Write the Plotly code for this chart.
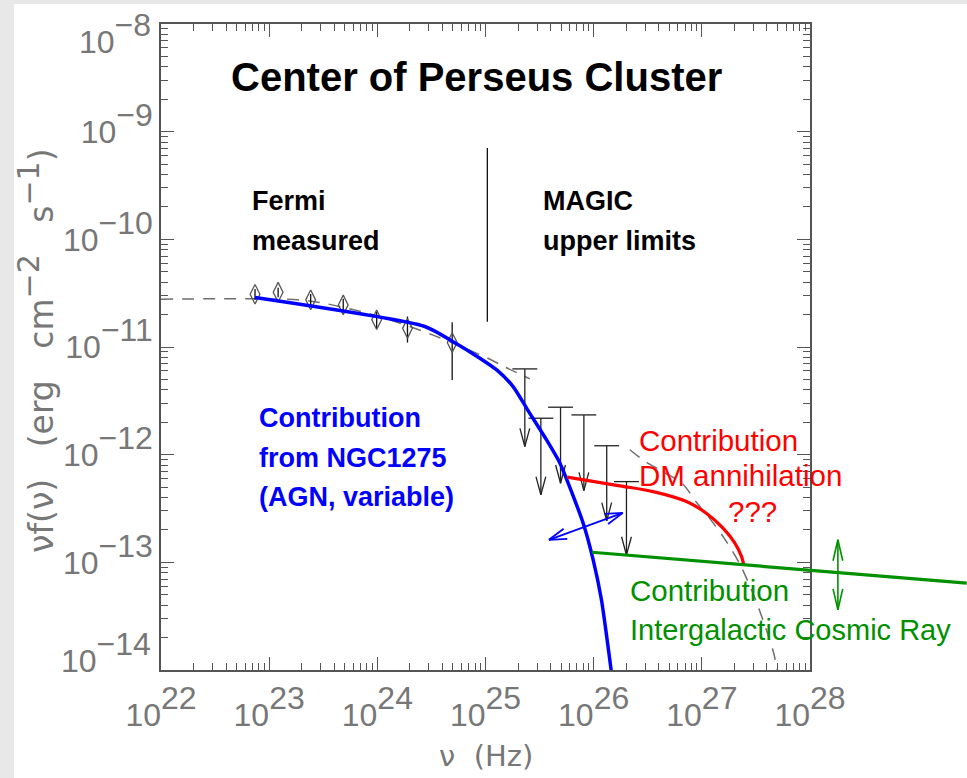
import numpy as np
import plotly.graph_objects as go

# ---------------- data ----------------
fermi_nu = [7.40e22, 1.21e23, 2.42e23, 4.84e23, 9.86e23, 1.90e24, 4.92e24]
fermi_flux = [3.09e-11, 3.23e-11, 2.74e-11, 2.46e-11, 1.79e-11, 1.49e-11, 1.10e-11]
fermi_flux_hi = [3.45e-11, 3.55e-11, 3.10e-11, 2.80e-11, 2.13e-11, 1.92e-11, 1.70e-11]
fermi_flux_lo = [2.75e-11, 2.90e-11, 2.42e-11, 2.17e-11, 1.50e-11, 1.10e-11, 4.95e-12]

magic_nu = [2.31e25, 3.25e25, 4.94e25, 8.12e25, 1.32e26, 2.01e26]
magic_ul = [6.26e-12, 2.18e-12, 2.76e-12, 2.34e-12, 1.21e-12, 5.62e-13]
magic_tip = [1.19e-12, 4.24e-13, 5.43e-13, 4.64e-13, 2.43e-13, 1.17e-13]

agn_nu = [7.40e22, 2.75e24, 5.02e24, 8.87e24, 1.27e25, 1.80e25, 2.45e25, 3.67e25,
          4.88e25, 8.00e25, 9.91e25, 1.18e26, 1.46e26]
agn_flux = [2.88e-11, 1.55e-11, 1.12e-11, 7.87e-12, 6.12e-12, 4.29e-12, 2.61e-12, 1.37e-12,
            8.34e-13, 2.31e-13, 1.05e-13, 4.49e-14, 9.5e-15]

fit_nu = [1.00e22, 7.40e22, 2.38e23, 9.91e23, 3.27e24, 1.03e25, 1.51e25, 2.57e25]
fit_flux = [2.78e-11, 2.80e-11, 2.68e-11, 1.95e-11, 1.29e-11, 7.93e-12, 6.53e-12, 5.06e-12]

total_nu = [2.16e26, 2.85e26, 4.09e26, 6.53e26, 8.99e26, 1.21e27, 1.60e27, 2.24e27,
            3.22e27, 4.53e27, 5.04e27]
total_flux = [1.11e-12, 8.95e-13, 7.20e-13, 5.45e-13, 3.57e-13, 2.48e-13, 1.69e-13, 9.68e-14,
              4.20e-14, 1.54e-14, 9.6e-15]

dm_nu = [5.69e25, 9.22e25, 1.75e26, 3.55e26, 7.22e26, 1.10e27, 1.57e27, 2.02e27, 2.33e27, 2.44e27]
dm_flux = [6.18e-13, 5.71e-13, 5.13e-13, 4.54e-13, 3.67e-13, 2.86e-13, 2.08e-13, 1.51e-13, 1.13e-13, 9.48e-14]

cr_nu = [9.62e25, 2.81e29]
cr_flux = [1.24e-13, 6.41e-14]

divider_nu = [1.04e25, 1.04e25]
divider_flux = [7.06e-10, 1.72e-11]

agn_arrow_nu = [3.86e25, 1.86e26]
agn_arrow_flux = [1.62e-13, 2.88e-13]
cr_arrow_nu = [1.81e28, 1.81e28]
cr_arrow_flux = [1.62e-13, 3.62e-14]

x_major = [1e22, 1e23, 1e24, 1e25, 1e26, 1e27, 1e28]
x_labels = ["22", "23", "24", "25", "26", "27", "28"]
y_major = [1e-14, 1e-13, 1e-12, 1e-11, 1e-10, 1e-9, 1e-8]
y_labels = ["−14", "−13", "−12", "−11", "−10", "−9", "−8"]

# ---------------- layout constants ----------------
W, H = 967, 778
L, R, T, B = 161, 0, 24, 108
PW, PH = W - L - R, H - T - B
XMAIN_END = 810

GRAY_TXT = "#777777"
AXC = "#555555"
TICKFONT = "Liberation Sans, Arial, sans-serif"
TICKSIZE = 32
SUPLIFT = 40   # size of the wrapper span that sets how high the exponent sits


def expo_label(e, size=TICKSIZE, lift=SUPLIFT):
    return (f"10<span style='font-size:{lift}px'><sup>"
            f"<span style='font-size:{size}px'>{e}</span></sup></span>")


def minor_vals(lo, hi):
    return [m * 10.0 ** d for d in range(lo, hi) for m in range(2, 10)]


def head(xt, yt, xf, yf, length, half_angle):
    """V-shaped arrow head (two legs) at tip (xt, yt) pointing away from (xf, yf); log space."""
    lx0, ly0 = np.log10(xt), np.log10(yt)
    d = np.array([np.log10(xf) - lx0, np.log10(yf) - ly0])
    d = d / np.hypot(*d)
    xs, ys = [], []
    for s in (1, -1):
        a = np.radians(half_angle) * s
        r = np.array([np.cos(a) * d[0] - np.sin(a) * d[1], np.sin(a) * d[0] + np.cos(a) * d[1]])
        xs += [10 ** (lx0 + length * r[0]), xt, None]
        ys += [10 ** (ly0 + length * r[1]), yt, None]
    return xs, ys


def px(x):
    return (x - L) / PW


def py(y):
    return (H - B - y) / PH


fig = go.Figure()

# dashed model curves
for xs, ys in ((fit_nu, fit_flux), (total_nu, total_flux)):
    fig.add_trace(go.Scatter(x=xs, y=ys, mode="lines", line_shape="spline",
                             line=dict(color="#6f6f6f", width=1.5, dash="12px,9px", smoothing=0.8),
                             xaxis="x", yaxis="y", hoverinfo="skip"))

# separator line
fig.add_trace(go.Scatter(x=divider_nu, y=divider_flux, mode="lines",
                         line=dict(color="#111", width=1.3), xaxis="x", yaxis="y"))

# Fermi points
fig.add_trace(go.Scatter(
    x=fermi_nu, y=fermi_flux, mode="markers",
    marker=dict(symbol="diamond-tall-open", size=14, color="#555", line=dict(width=1.3, color="#555")),
    error_y=dict(type="data", symmetric=False,
                 array=[h - v for h, v in zip(fermi_flux_hi, fermi_flux)],
                 arrayminus=[v - l for v, l in zip(fermi_flux, fermi_flux_lo)],
                 width=0, thickness=1.3, color="#111"),
    xaxis="x", yaxis="y"))

# MAGIC upper limits: cap, shaft, V head
ulx, uly = [], []
for nu, top, tip in zip(magic_nu, magic_ul, magic_tip):
    ulx += [nu * 10 ** -0.115, nu * 10 ** 0.115, None, nu, nu, None]
    uly += [top, top, None, top, tip, None]
    hx, hy = head(nu, tip, nu, top, 0.175, 15)
    ulx += hx
    uly += hy
fig.add_trace(go.Scatter(x=ulx, y=uly, mode="lines", line=dict(color="#222", width=1.3),
                         xaxis="x", yaxis="y"))

# AGN (blue)
fig.add_trace(go.Scatter(x=agn_nu, y=agn_flux, mode="lines", line_shape="spline",
                         line=dict(color="#0000ff", width=3.5, smoothing=0.6), xaxis="x", yaxis="y"))

# blue double arrow
bx, by = list(agn_arrow_nu) + [None], list(agn_arrow_flux) + [None]
for i, j in ((0, 1), (1, 0)):
    hx, hy = head(agn_arrow_nu[i], agn_arrow_flux[i], agn_arrow_nu[j], agn_arrow_flux[j], 0.17, 17)
    bx += hx
    by += hy
fig.add_trace(go.Scatter(x=bx, y=by, mode="lines", line=dict(color="#0000ff", width=1.8),
                         xaxis="x", yaxis="y"))

# DM (red)
fig.add_trace(go.Scatter(x=dm_nu, y=dm_flux, mode="lines", line_shape="spline",
                         line=dict(color="#ff0000", width=3.2), xaxis="x", yaxis="y"))

# cosmic ray (green) on the wide x2 axis so it runs past the frame
fig.add_trace(go.Scatter(x=cr_nu, y=cr_flux, mode="lines",
                         line=dict(color="#009000", width=3.2), xaxis="x2", yaxis="y"))
gx, gy = list(cr_arrow_nu) + [None], list(cr_arrow_flux) + [None]
for i, j in ((0, 1), (1, 0)):
    hx, hy = head(cr_arrow_nu[i], cr_arrow_flux[i], cr_arrow_nu[j], cr_arrow_flux[j], 0.2, 13)
    gx += hx
    gy += hy
fig.add_trace(go.Scatter(x=gx, y=gy, mode="lines", line=dict(color="#009000", width=1.6),
                         xaxis="x2", yaxis="y"))

# ---------------- text ----------------
anns = []


def add(text, x, y, size, color, family="Liberation Sans, Arial, sans-serif", xanchor="left", bold=False):
    if bold:
        text = f"<b>{text}</b>"
    anns.append(dict(text=text, x=px(x), y=py(y), xref="paper", yref="paper",
                     xanchor=xanchor, yanchor="middle", showarrow=False,
                     font=dict(size=size, color=color, family=family)))


add("Center of Perseus Cluster", 476, 77, 40, "#000", xanchor="center", bold=True)
add("Fermi", 250, 201, 27, "#000", bold=True)
add("measured", 250, 241, 27, "#000", bold=True)
add("MAGIC", 541, 201, 27, "#000", bold=True)
add("upper limits", 541, 241, 27, "#000", bold=True)
add("Contribution", 257, 418, 27, "#0000ff", bold=True)
add("from NGC1275", 257, 458, 27, "#0000ff", bold=True)
add("(AGN, variable)", 257, 497, 27, "#0000ff", bold=True)
add("Contribution", 637, 440, 29.5, "#ff0000")
add("DM annihilation", 637, 475, 29.5, "#ff0000")
add("???", 752, 511, 29.5, "#ff0000", xanchor="center")
add("Contribution", 628, 590, 29.5, "#009000")
add("Intergalactic Cosmic Ray", 628, 630, 29, "#009000")
add("ν\u00a0\u00a0(Hz)", 486, 756, 29, GRAY_TXT, family="DejaVu Sans, sans-serif", xanchor="center")

# end labels of the y axis are nudged inward in the reference
add(expo_label(y_labels[-1]), 153, 33, TICKSIZE, GRAY_TXT, family=TICKFONT, xanchor="right")
add(expo_label(y_labels[0]), 153, 652, TICKSIZE, GRAY_TXT, family=TICKFONT, xanchor="right")

sp = "\u00a0\u00a0\u00a0"
ytitle = (f"νf(ν){sp}(erg{sp}cm<sup><span style='font-size:30px'>−2</span></sup>"
          f"{sp}s<sup><span style='font-size:30px'>−1</span></sup>)")
anns.append(dict(text=ytitle, x=px(36), y=py(351), xref="paper", yref="paper",
                 xanchor="center", yanchor="middle", showarrow=False, textangle=-90,
                 font=dict(size=33, color=GRAY_TXT, family="DejaVu Sans, sans-serif")))

# page background strips (grey border of the screenshot)
shapes = [
    dict(type="rect", xref="paper", yref="paper", x0=px(0), x1=px(14), y0=py(H), y1=py(0),
         fillcolor="#e8e8e8", line=dict(width=0), layer="below"),
    dict(type="rect", xref="paper", yref="paper", x0=px(0), x1=px(W), y0=py(4), y1=py(0),
         fillcolor="#e8e8e8", line=dict(width=0), layer="below"),
]

axis_common = dict(type="log", showgrid=False, zeroline=False, showline=True, linecolor=AXC,
                   linewidth=1.6, mirror="ticks", ticks="inside", ticklen=13, tickwidth=1.4,
                   tickcolor=AXC, tickmode="array", ticklabeloverflow="allow", automargin=False,
                   tickfont=dict(size=TICKSIZE, color=GRAY_TXT, family=TICKFONT))

fig.update_layout(
    width=W, height=H, autosize=False,
    margin=dict(l=L, r=R, t=T, b=B, pad=0),
    paper_bgcolor="white", plot_bgcolor="rgba(0,0,0,0)",
    showlegend=False,
    xaxis=dict(axis_common, range=[22, 28], domain=[0, (XMAIN_END - L) / PW], anchor="y",
               tickvals=x_major, ticktext=[expo_label(t) for t in x_labels],
               ticklabelstandoff=16,
               minor=dict(ticks="inside", ticklen=7, tickwidth=1.2, tickcolor=AXC,
                          tickvals=minor_vals(22, 28), showgrid=False)),
    xaxis2=dict(type="log", range=[22, 22 + PW / 108.17], domain=[0, 1], anchor="y",
                visible=False, showgrid=False, zeroline=False),
    # end decades sit on the frame; their labels are placed as annotations above
    yaxis=dict(axis_common, range=[-14, -8], domain=[0, 1], anchor="x",
               tickvals=y_major[1:-1], ticktext=[expo_label(t) for t in y_labels[1:-1]],
               minor=dict(ticks="inside", ticklen=7, tickwidth=1.2, tickcolor=AXC,
                          tickvals=minor_vals(-14, -8), showgrid=False)),
    annotations=anns,
    shapes=shapes,
)

fig.write_html("out.html", config={"responsive": False, "displayModeBar": False},
               post_script="document.body.style.margin='0';document.body.style.overflow='hidden';")
